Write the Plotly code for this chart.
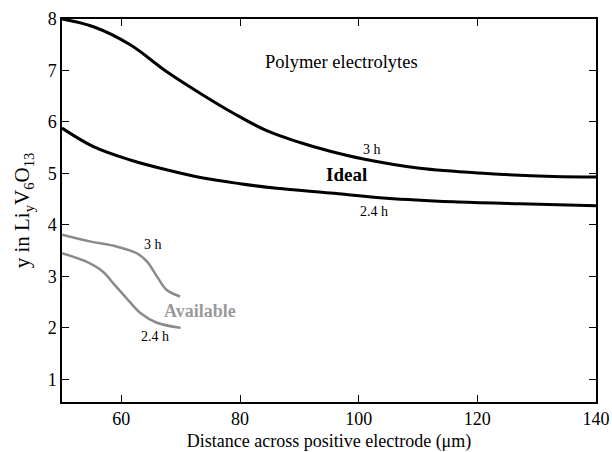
import plotly.graph_objects as go

# Ideal, 3 h
ideal3_x = [50, 55.3, 61.5, 67.6, 73.8, 78.9, 84.5, 90.1, 95.2, 100.8, 110.3, 121.6, 132.8, 140]
ideal3_y = [8.0, 7.85, 7.50, 6.98, 6.52, 6.17, 5.83, 5.60, 5.43, 5.28, 5.10, 5.00, 4.94, 4.93]
# Ideal, 2.4 h
ideal24_x = [50, 55.3, 61.5, 67.6, 73.8, 80.0, 86.2, 95.2, 104.7, 116.0, 127.2, 140]
ideal24_y = [5.88, 5.52, 5.26, 5.07, 4.91, 4.80, 4.71, 4.62, 4.52, 4.45, 4.41, 4.37]
# Available, 3 h
avail3_x = [50, 54.7, 59.2, 62.6, 64.3, 66.0, 67.6, 69.9]
avail3_y = [3.81, 3.68, 3.58, 3.45, 3.29, 3.00, 2.74, 2.61]
# Available, 2.4 h
avail24_x = [50, 54.2, 56.9, 58.9, 61.0, 63.2, 66.0, 70.0]
avail24_y = [3.45, 3.28, 3.09, 2.83, 2.56, 2.29, 2.10, 2.00]

x_ticks = [60, 80, 100, 120, 140]
y_ticks = [1, 2, 3, 4, 5, 6, 7, 8]

SERIF = "Liberation Serif, Times New Roman, serif"

fig = go.Figure()
for xs, ys, col, w in [
    (ideal3_x, ideal3_y, "black", 3),
    (ideal24_x, ideal24_y, "black", 3),
    (avail3_x, avail3_y, "#8a8a8a", 2.5),
    (avail24_x, avail24_y, "#8a8a8a", 2.5),
]:
    fig.add_trace(go.Scatter(x=xs, y=ys, mode="lines", line=dict(color=col, width=w, shape="spline", smoothing=1.0), showlegend=False, hoverinfo="skip"))

annots = [
    (97.1, 7.17, "Polymer electrolytes", 18.5, "black"),
    (102.2, 5.46, "3 h", 14, "black"),
    (98.0, 4.97, "<b>Ideal</b>", 19, "black"),
    (102.5, 4.26, "2.4 h", 14, "black"),
    (65.3, 3.61, "3 h", 14, "black"),
    (73.2, 2.33, "<b>Available</b>", 18, "#9a9a9a"),
    (65.7, 1.83, "2.4 h", 14, "black"),
]
for x, y, t, s, c in annots:
    fig.add_annotation(x=x, y=y, text=t, showarrow=False, font=dict(family=SERIF, size=s, color=c))

fig.update_layout(
    width=612, height=452,
    margin=dict(l=62, r=16, t=19, b=50),
    paper_bgcolor="white", plot_bgcolor="white",
    font=dict(family=SERIF, size=18, color="black"),
)
fig.update_xaxes(
    range=[50, 140], tickvals=x_ticks, ticks="inside", ticklen=7, tickcolor="black",
    showline=True, linecolor="black", linewidth=1.5, mirror="ticks", showgrid=False, zeroline=False,
    title=dict(text="Distance across positive electrode (μm)", font=dict(size=18), standoff=14),
    tickfont=dict(size=18), automargin=False,
)
fig.update_yaxes(
    range=[0.56, 8], tickvals=y_ticks, ticks="inside", ticklen=7, tickcolor="black",
    showline=True, linecolor="black", linewidth=1.5, mirror="ticks", showgrid=False, zeroline=False,
    title=dict(text="y in Li<sub>y</sub>V<sub>6</sub>O<sub>13</sub>", font=dict(size=21), standoff=12),
    tickfont=dict(size=18), automargin=False,
)
fig.write_html("out.html")
